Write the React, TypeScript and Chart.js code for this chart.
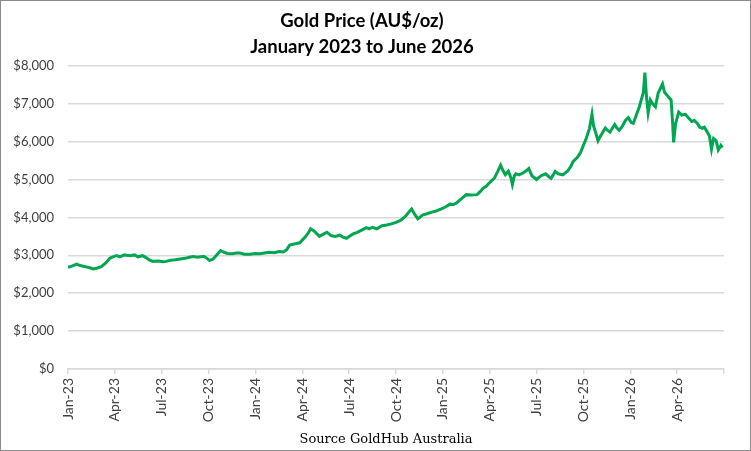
import React, { useEffect, useRef } from "react";
import { Chart, registerables } from "chart.js";

Chart.register(...registerables);

const titleLines = ["Gold Price (AU$/oz)", "January 2023 to June 2026"];
const sourceText = "Source GoldHub Australia";

const quarterLabels = [
  "Jan-23", "Apr-23", "Jul-23", "Oct-23",
  "Jan-24", "Apr-24", "Jul-24", "Oct-24",
  "Jan-25", "Apr-25", "Jul-25", "Oct-25",
  "Jan-26", "Apr-26", "",
];

const yTicks = [0, 1000, 2000, 3000, 4000, 5000, 6000, 7000, 8000];

const dates = [
  "2023-01-01", "2023-01-10", "2023-01-18", "2023-01-25", "2023-02-04", "2023-02-12", "2023-02-18", "2023-02-26",
  "2023-03-05", "2023-03-14", "2023-03-22", "2023-03-28", "2023-04-04", "2023-04-11", "2023-04-19", "2023-04-23",
  "2023-05-01", "2023-05-09", "2023-05-16", "2023-05-25", "2023-06-01", "2023-06-07", "2023-06-14", "2023-06-25",
  "2023-07-04", "2023-07-10", "2023-07-19", "2023-07-28", "2023-08-07", "2023-08-16", "2023-08-25", "2023-09-01",
  "2023-09-10", "2023-09-22", "2023-09-28", "2023-10-03", "2023-10-10", "2023-10-18", "2023-10-25", "2023-11-01",
  "2023-11-07", "2023-11-16", "2023-11-25", "2023-12-01", "2023-12-10", "2023-12-21",
  "2024-01-01", "2024-01-10", "2024-01-19", "2024-01-28", "2024-02-07", "2024-02-16", "2024-02-24", "2024-03-01",
  "2024-03-07", "2024-03-16", "2024-03-27", "2024-04-01", "2024-04-07", "2024-04-13", "2024-04-17", "2024-04-23",
  "2024-05-04", "2024-05-12", "2024-05-19", "2024-05-27", "2024-06-04", "2024-06-13", "2024-06-19", "2024-06-26",
  "2024-07-04", "2024-07-10", "2024-07-16", "2024-07-25", "2024-08-04", "2024-08-10", "2024-08-16", "2024-08-25",
  "2024-09-04", "2024-09-13", "2024-09-22", "2024-10-01", "2024-10-10", "2024-10-19", "2024-10-27", "2024-11-01",
  "2024-11-07", "2024-11-13", "2024-11-22", "2024-11-29", "2024-12-10", "2024-12-19", "2024-12-28",
  "2025-01-07", "2025-01-15", "2025-01-22", "2025-01-28", "2025-02-07", "2025-02-15", "2025-02-23", "2025-03-07",
  "2025-03-13", "2025-03-19", "2025-03-25", "2025-04-01", "2025-04-10", "2025-04-16", "2025-04-22", "2025-04-26",
  "2025-05-01", "2025-05-07", "2025-05-12", "2025-05-15", "2025-05-19", "2025-05-22", "2025-05-28", "2025-06-05",
  "2025-06-11", "2025-06-16", "2025-06-22", "2025-07-01", "2025-07-10", "2025-07-19", "2025-07-25", "2025-07-30",
  "2025-08-07", "2025-08-13", "2025-08-22", "2025-09-01", "2025-09-07", "2025-09-11", "2025-09-19", "2025-09-25",
  "2025-10-01", "2025-10-07", "2025-10-13", "2025-10-18", "2025-10-21", "2025-10-25", "2025-10-30", "2025-11-04",
  "2025-11-13", "2025-11-17", "2025-11-22", "2025-12-01", "2025-12-06", "2025-12-10", "2025-12-16", "2025-12-22",
  "2025-12-28",
  "2026-01-03", "2026-01-07", "2026-01-13", "2026-01-19", "2026-01-27", "2026-01-30", "2026-02-02", "2026-02-05",
  "2026-02-09", "2026-02-13", "2026-02-18", "2026-02-23", "2026-03-03", "2026-03-07", "2026-03-12", "2026-03-20",
  "2026-03-23", "2026-03-25", "2026-03-29", "2026-04-04", "2026-04-10", "2026-04-17", "2026-04-23", "2026-04-29",
  "2026-05-04", "2026-05-10", "2026-05-15", "2026-05-20", "2026-05-24", "2026-05-29", "2026-06-03", "2026-06-07",
  "2026-06-11", "2026-06-16", "2026-06-20", "2026-06-25", "2026-06-28",
];

const prices = [
  2680, 2720, 2765, 2730, 2700, 2670, 2640, 2665,
  2700, 2800, 2920, 2960, 2990, 2960, 3010, 3000,
  2990, 3010, 2960, 2990, 2940, 2880, 2840, 2850,
  2830, 2840, 2870, 2880, 2900, 2920, 2950, 2970,
  2950, 2975, 2920, 2860, 2900, 3020, 3125, 3080,
  3050, 3040, 3060, 3060, 3030, 3030,
  3050, 3040, 3060, 3080, 3070, 3100, 3090, 3150,
  3270, 3300, 3330, 3400, 3490, 3600, 3700, 3650,
  3500, 3560, 3610, 3520, 3500, 3530, 3480, 3450,
  3520, 3570, 3600, 3660, 3730, 3700, 3740, 3700,
  3780, 3800, 3830, 3870, 3920, 4020, 4150, 4220,
  4080, 3960, 4060, 4090, 4140, 4170, 4220,
  4280, 4350, 4340, 4380, 4500, 4600, 4590, 4600,
  4680, 4770, 4820, 4920, 5040, 5200, 5380, 5250,
  5130, 5220, 5050, 4870, 5100, 5150, 5120, 5170,
  5230, 5290, 5100, 5000, 5100, 5150, 5080, 5030,
  5210, 5150, 5120, 5230, 5350, 5470, 5580, 5700,
  5900, 6100, 6350, 6720, 6420, 6250, 6020, 6150,
  6360, 6300, 6250, 6450, 6350, 6300, 6400, 6550,
  6630,
  6500, 6480, 6700, 6920, 7300, 7820, 7200, 6760,
  7100, 7000, 6920, 7280, 7520, 7300, 7220, 7100,
  6500, 5980, 6480, 6780, 6700, 6720, 6620, 6530,
  6560, 6480, 6380, 6350, 6380, 6270, 6150, 5800,
  6080, 6020, 5780, 5900, 5840,
];

function monthIndex(d: string): number {
  const [y, m, day] = d.split("-").map(Number);
  const dim = new Date(y, m, 0).getDate();
  return (y - 2023) * 12 + (m - 1) + (day - 1) / dim;
}

const W = 751;
const H = 451;
const PLOT_LEFT = 68;
const PLOT_RIGHT = 724;
const PLOT_BOTTOM = 369;

const sourcePlugin = {
  id: "sourceText",
  afterDraw(chart: any) {
    const ctx = chart.ctx;
    ctx.save();
    ctx.font = '13px "DejaVu Serif"';
    ctx.fillStyle = "#000000";
    ctx.textAlign = "center";
    ctx.textBaseline = "alphabetic";
    ctx.fillText(sourceText, 386, 443);
    ctx.restore();
  },
};

export default function App() {
  const ref = useRef<HTMLCanvasElement | null>(null);

  useEffect(() => {
    if (!ref.current) return;
    const points = dates.map((d, i) => ({ x: monthIndex(d), y: prices[i] }));
    const chart = new Chart(ref.current, {
      type: "line",
      data: {
        datasets: [
          {
            data: points,
            borderColor: "#00a651",
            borderWidth: 3,
            pointRadius: 0,
            tension: 0,
            fill: false,
          },
        ],
      },
      options: {
        responsive: false,
        animation: false,
        layout: { padding: { left: 0, right: W - PLOT_RIGHT, top: 0, bottom: 0 } },
        plugins: {
          legend: { display: false },
          tooltip: { enabled: false },
          title: {
            display: true,
            text: titleLines,
            color: "#000000",
            font: { family: "Lato", size: 18.5, weight: "bold", lineHeight: 1.4 },
            padding: { top: 8, bottom: 6 },
          },
        },
        scales: {
          x: {
            type: "linear",
            min: 0,
            max: 42,
            afterFit(scale: any) {
              scale.height = H - PLOT_BOTTOM;
            },
            afterBuildTicks(scale: any) {
              scale.ticks = quarterLabels.map((_, i) => ({ value: i * 3 }));
            },
            ticks: {
              autoSkip: false,
              maxRotation: 90,
              minRotation: 90,
              padding: 4,
              color: "#404040",
              font: { family: "Lato", size: 14 },
              callback: (v: any) => quarterLabels[Math.round(Number(v) / 3)] ?? "",
            },
            grid: {
              display: true,
              drawOnChartArea: false,
              drawTicks: true,
              tickLength: 5,
              color: "#d9d9d9",
              lineWidth: 1.5,
            },
            border: { display: true, color: "#d9d9d9", width: 1.5 },
          },
          y: {
            min: 0,
            max: 8000,
            afterFit(scale: any) {
              scale.width = PLOT_LEFT;
            },
            afterBuildTicks(scale: any) {
              scale.ticks = yTicks.map((v) => ({ value: v }));
            },
            ticks: {
              padding: 14,
              color: "#404040",
              font: { family: "Lato", size: 13 },
              callback: (v: any) => "$" + Number(v).toLocaleString("en-US"),
            },
            grid: {
              color: "#d9d9d9",
              lineWidth: 1.5,
              drawTicks: false,
            },
            border: { display: false },
          },
        },
      },
      plugins: [sourcePlugin],
    });
    return () => chart.destroy();
  }, []);

  return (
    <div style={{ position: "fixed", left: 0, top: 0, width: W, height: H, background: "#ffffff" }}>
      <canvas ref={ref} width={W} height={H} style={{ width: W, height: H, display: "block" }} />
      <div
        style={{
          position: "absolute",
          left: 0,
          top: 0,
          width: W,
          height: H,
          boxSizing: "border-box",
          border: "1px solid #8c8c8c",
          pointerEvents: "none",
        }}
      />
    </div>
  );
}
